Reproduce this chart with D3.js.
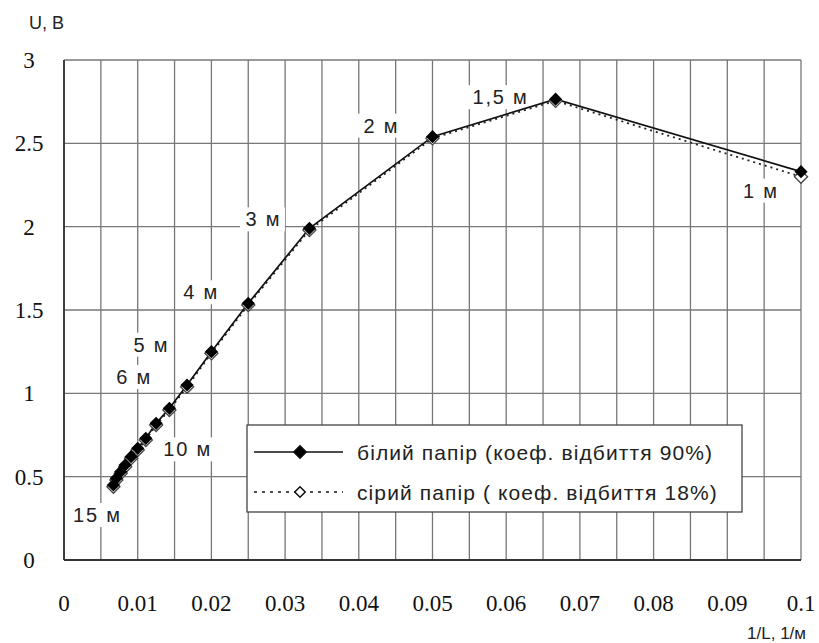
<!DOCTYPE html>
<html lang="uk">
<head>
<meta charset="UTF-8">
<title>U(1/L)</title>
<style>
  body { margin: 0; background: #fff; }
  svg { display: block; }
  text.tick { font-family: "Liberation Serif", "DejaVu Serif", serif !important; font-size: 23px !important; }
</style>
</head>
<body>
<div id="chart"></div>
<script src="https://cdn.jsdelivr.net/npm/d3@7"></script>
<script>
// distances, m
const distances = [1, 1.5, 2, 3, 4, 5, 6, 7, 8, 9, 10, 11, 12, 13, 14, 15];
// 1/L, 1/m
const invL = [0.1, 0.0667, 0.05, 0.0333, 0.025, 0.02, 0.0167, 0.0143, 0.0125, 0.0111, 0.01, 0.0091, 0.0083, 0.0077, 0.0071, 0.0067];
// U, V
const whitePaper = [2.33, 2.765, 2.54, 1.99, 1.54, 1.25, 1.05, 0.91, 0.82, 0.73, 0.67, 0.62, 0.57, 0.53, 0.49, 0.45];
const greyPaper = [2.30, 2.755, 2.53, 1.98, 1.53, 1.24, 1.04, 0.90, 0.81, 0.72, 0.66, 0.61, 0.56, 0.52, 0.48, 0.44];
const xTicks = ["0", "0.01", "0.02", "0.03", "0.04", "0.05", "0.06", "0.07", "0.08", "0.09", "0.1"];
const yTicks = ["0", "0.5", "1", "1.5", "2", "2.5", "3"];
const labelled = ["1 м", "1,5 м", "2 м", "3 м", "4 м", "5 м", "6 м", "10 м", "15 м"];
const legendNames = ["білий папір (коеф. відбиття 90%)", "сірий папір ( коеф. відбиття 18%)"];

const W = 819, H = 643;
const mLeft = 64, mRight = 801, mTop = 60, mBottom = 560;
const sans = "Liberation Sans, Arial, sans-serif";

const svg = d3.select("#chart").append("svg").attr("width", W).attr("height", H);

const x = d3.scaleLinear().domain([0, 0.1]).range([mLeft, mRight]);
const y = d3.scaleLinear().domain([0, 3]).range([mBottom, mTop]);

// grid
const vGrid = d3.range(0, 21).map(i => i * 0.005);
svg.append("g").selectAll("line").data(vGrid).enter().append("line")
  .attr("x1", d => x(d)).attr("x2", d => x(d))
  .attr("y1", mTop).attr("y2", mBottom)
  .attr("stroke", "#777").attr("stroke-width", 1.3);
svg.append("g").selectAll("line").data(yTicks).enter().append("line")
  .attr("x1", mLeft).attr("x2", mRight)
  .attr("y1", d => y(+d)).attr("y2", d => y(+d))
  .attr("stroke", "#777").attr("stroke-width", 1.3);

// axes lines
svg.append("line").attr("x1", mLeft).attr("x2", mLeft).attr("y1", mTop).attr("y2", mBottom)
  .attr("stroke", "#333").attr("stroke-width", 1.8);
svg.append("line").attr("x1", mLeft).attr("x2", mRight).attr("y1", mBottom).attr("y2", mBottom)
  .attr("stroke", "#333").attr("stroke-width", 1.8);

// tick labels
svg.append("g").selectAll("text").data(yTicks).enter().append("text")
  .attr("class", "tick").attr("fill", "#111")
  .attr("x", 29).attr("y", d => y(+d) + 8)
  .attr("text-anchor", "middle")
  .text(d => d);
svg.append("g").selectAll("text").data(xTicks).enter().append("text")
  .attr("class", "tick").attr("fill", "#111")
  .attr("x", d => x(+d)).attr("y", 611)
  .attr("text-anchor", "middle")
  .text(d => d);

svg.append("text").attr("font-family", sans).attr("fill", "#222").attr("x", 29).attr("y", 29)
  .attr("font-size", 18).text("U, B");
svg.append("text").attr("font-family", sans).attr("fill", "#222").attr("x", 806).attr("y", 639)
  .attr("text-anchor", "end").attr("font-size", 17).text("1/L, 1/м");

// distance labels with white boxes
const labelOffsets = {
  "1 м": [-41, 19], "1,5 м": [-56, -2], "2 м": [-52, -11], "3 м": [-47, -9],
  "4 м": [-48, -11], "5 м": [-61, -7], "6 м": [-54, -8], "10 м": [49, 1], "15 м": [-17, 30]
};
const lab = svg.append("g").selectAll("g").data(labelled).enter().append("g")
  .attr("transform", d => {
    const i = distances.indexOf(parseFloat(d.replace(",", ".")));
    const o = labelOffsets[d];
    return `translate(${x(invL[i]) + o[0]},${y(whitePaper[i]) + o[1]})`;
  });
lab.append("rect")
  .attr("x", d => -d.length * 6.5 - 3).attr("y", -12)
  .attr("width", d => d.length * 13 + 6).attr("height", 24)
  .attr("fill", "#fff");
lab.append("text").attr("font-family", sans).attr("fill", "#222")
  .attr("text-anchor", "middle").attr("y", 7).attr("font-size", 20)
  .attr("letter-spacing", 1.8).attr("dx", 1)
  .text(d => d);

// lines
const pts = s => invL.map((v, i) => [x(v), y(s[i])]);
const line = d3.line();
svg.append("path").attr("d", line(pts(greyPaper)))
  .attr("fill", "none").attr("stroke", "#222").attr("stroke-width", 1.8)
  .attr("stroke-dasharray", "2,4");
svg.append("path").attr("d", line(pts(whitePaper)))
  .attr("fill", "none").attr("stroke", "#111").attr("stroke-width", 1.7);

const diamond = d3.symbol().type(d3.symbolDiamond2).size(110);
svg.append("g").selectAll("path").data(pts(greyPaper)).enter().append("path")
  .attr("d", diamond).attr("transform", d => `translate(${d[0]},${d[1]})`)
  .attr("fill", "#fff").attr("stroke", "#444").attr("stroke-width", 1.3);
svg.append("g").selectAll("path").data(pts(whitePaper)).enter().append("path")
  .attr("d", diamond).attr("transform", d => `translate(${d[0]},${d[1]})`)
  .attr("fill", "#000");

// legend
const lg = svg.append("g").attr("transform", "translate(247,425)");
lg.append("rect").attr("width", 495).attr("height", 87)
  .attr("fill", "#fff").attr("stroke", "#444").attr("stroke-width", 1.3);
const rows = lg.selectAll("g").data(legendNames).enter().append("g")
  .attr("transform", (d, i) => `translate(0,${27 + i * 40})`);
rows.append("line").attr("x1", 7).attr("x2", 96)
  .attr("stroke", "#111").attr("stroke-width", 1.7)
  .attr("stroke-dasharray", (d, i) => i ? "3,5" : null);
rows.append("path").attr("d", (d, i) => d3.symbol().type(d3.symbolDiamond2).size(i ? 70 : 100)())
  .attr("transform", "translate(53,0)")
  .attr("fill", (d, i) => i ? "#fff" : "#000").attr("stroke", "#111").attr("stroke-width", 1.5);
rows.append("text").attr("font-family", sans).attr("fill", "#222").attr("x", 110).attr("y", 8)
  .attr("font-size", 21).attr("letter-spacing", 1.1).text(d => d);
</script>
</body>
</html>
